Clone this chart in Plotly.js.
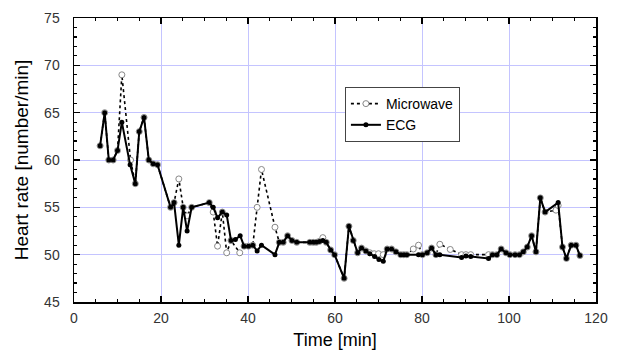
<!DOCTYPE html>
<html>
<head>
<meta charset="utf-8">
<script src="https://cdn.plot.ly/plotly-3.0.1.min.js"></script>
<style>html,body{margin:0;padding:0;background:#fff}#chart{width:619px;height:352px}</style>
</head>
<body>
<div id="chart"></div>
<script>
// ECG series
const ecgTime = [6.0, 7.05, 8.0, 9.0, 10.0, 11.0, 12.9, 14.1, 15.0, 16.1, 17.2, 18.2, 19.2, 22.2, 23.0, 24.1, 25.1, 26.0, 27.05, 31.1, 32.0, 33.0, 34.1, 35.1, 36.1, 37.1, 38.2, 39.1, 40.1, 41.1, 42.1, 43.1, 46.2, 47.2, 48.1, 49.1, 50.1, 51.2, 54.2, 55.0, 55.7, 56.4, 57.2, 58.0, 59.0, 59.9, 62.1, 63.2, 64.2, 65.2, 66.1, 67.1, 68.0, 69.1, 70.1, 71.1, 72.0, 73.0, 74.0, 75.1, 75.8, 76.5, 79.2, 80.1, 81.2, 82.2, 83.2, 84.1, 89.1, 90.1, 91.2, 95.3, 96.2, 97.2, 98.2, 99.3, 100.2, 101.4, 102.4, 103.3, 104.2, 105.2, 106.2, 107.2, 108.3, 111.3, 112.3, 113.2, 114.3, 115.4, 116.3];
const ecgRate = [61.5, 65.0, 60.0, 60.0, 61.0, 64.0, 59.5, 57.5, 63.0, 64.5, 60.0, 59.6, 59.5, 55.0, 55.5, 51.0, 55.0, 52.5, 55.0, 55.5, 55.0, 53.9, 54.5, 54.2, 51.5, 51.6, 52.0, 50.9, 50.9, 51.0, 50.4, 51.0, 50.0, 51.3, 51.3, 52.0, 51.5, 51.3, 51.3, 51.3, 51.3, 51.4, 51.5, 51.3, 50.5, 50.0, 47.5, 53.0, 51.5, 50.2, 50.7, 50.4, 50.1, 49.8, 49.5, 49.3, 50.6, 50.6, 50.3, 50.0, 50.0, 50.0, 50.0, 50.0, 50.2, 50.7, 50.0, 50.0, 49.7, 49.85, 49.8, 49.6, 50.0, 50.0, 50.6, 50.2, 50.0, 50.0, 50.0, 50.3, 50.8, 52.0, 50.3, 56.0, 54.5, 55.5, 50.8, 49.6, 51.0, 51.0, 49.9];

// Microwave series
const mwTime = [6.0, 7.05, 8.0, 9.0, 10.0, 11.0, 13.0, 14.1, 15.0, 16.1, 17.2, 18.2, 19.2, 22.2, 23.0, 24.1, 25.1, 26.0, 27.05, 31.1, 32.0, 33.0, 34.1, 35.1, 36.1, 38.1, 39.1, 40.1, 41.1, 42.1, 43.1, 46.2, 47.2, 48.1, 49.1, 50.1, 51.2, 54.2, 55.0, 55.7, 56.4, 57.2, 58.0, 59.0, 59.9, 62.1, 63.2, 64.2, 65.2, 66.1, 67.1, 68.0, 69.0, 70.0, 71.1, 72.0, 73.0, 74.0, 75.1, 75.8, 76.5, 78.0, 79.2, 80.1, 81.2, 82.2, 83.2, 84.1, 86.5, 89.1, 90.1, 91.2, 95.3, 96.2, 97.2, 98.2, 99.3, 100.2, 101.4, 102.4, 103.3, 104.2, 105.2, 106.2, 107.2, 108.3, 110.8, 111.3, 112.3, 113.2, 114.3, 115.4, 116.3];
const mwRate = [61.5, 65.0, 60.0, 60.0, 61.0, 69.0, 60.0, 57.5, 63.0, 64.5, 60.0, 59.6, 59.5, 55.0, 55.5, 58.0, 55.0, 54.1, 55.0, 55.5, 54.5, 50.9, 54.5, 50.2, 51.5, 50.2, 50.9, 50.9, 51.0, 55.0, 59.0, 52.9, 51.3, 51.3, 52.0, 51.5, 51.3, 51.3, 51.3, 51.3, 51.4, 51.8, 51.3, 50.5, 50.0, 47.5, 53.0, 51.5, 50.2, 50.7, 50.4, 50.2, 50.1, 50.1, 50.0, 50.6, 50.6, 50.3, 50.0, 50.0, 50.0, 50.6, 51.0, 50.0, 50.2, 50.7, 50.0, 51.1, 50.55, 50.0, 50.0, 50.0, 50.0, 50.0, 50.0, 50.6, 50.2, 50.0, 50.0, 50.0, 50.3, 50.8, 52.0, 50.3, 56.0, 54.5, 54.7, 55.2, 50.8, 49.6, 51.0, 51.0, 49.9];

const seriesNames = ['Microwave', 'ECG'];

const traces = [
  {
    x: mwTime, y: mwRate, name: seriesNames[0], type: 'scatter', mode: 'lines+markers',
    line: {color: '#000', width: 1.6, dash: 'dot'},
    marker: {symbol: 'circle', size: 6, color: '#fff', line: {color: '#888', width: 1}}
  },
  {
    x: ecgTime, y: ecgRate, name: seriesNames[1], type: 'scatter', mode: 'lines+markers',
    line: {color: '#000', width: 2},
    marker: {symbol: 'circle', size: 5, color: '#000'}
  }
];

const axisCommon = {
  showline: true, linecolor: '#000', linewidth: 1.5, mirror: 'ticks',
  ticks: 'inside', ticklen: 6, tickwidth: 1.2, tickcolor: '#000',
  showgrid: true, gridcolor: '#c4c4ff', gridwidth: 1, zeroline: false,
  tickfont: {family: 'Liberation Sans, Arial, sans-serif', size: 14, color: '#333'}
};

const layout = {
  width: 619, height: 352,
  margin: {l: 74, r: 23, t: 18, b: 50},
  paper_bgcolor: '#fff', plot_bgcolor: '#fff',
  showlegend: true,
  legend: {
    x: 0.519, y: 0.757, xanchor: 'left', yanchor: 'top',
    bgcolor: '#fff', bordercolor: '#444', borderwidth: 1,
    font: {family: 'Liberation Sans, Arial, sans-serif', size: 14, color: '#000'},
    tracegroupgap: 0, itemwidth: 30
  },
  xaxis: Object.assign({}, axisCommon, {
    range: [0, 120], dtick: 20, tick0: 0,
    minor: {dtick: 5, ticks: 'inside', ticklen: 3, tickcolor: '#000', showgrid: false},
    ticklabelstandoff: 3,
    title: {text: 'Time [min]', font: {family: 'Liberation Sans, Arial, sans-serif', size: 18, color: '#000'}, standoff: 8}
  }),
  yaxis: Object.assign({}, axisCommon, {
    range: [45, 75], dtick: 5, tick0: 45,
    minor: {dtick: 1, ticks: 'inside', ticklen: 3, tickcolor: '#000', showgrid: false},
    ticklabelstandoff: 10,
    title: {text: 'Heart rate [number/min]', font: {family: 'Liberation Sans, Arial, sans-serif', size: 19, color: '#000'}, standoff: 10}
  })
};

Plotly.newPlot('chart', traces, layout, {staticPlot: true, displayModeBar: false});
</script>
</body>
</html>
